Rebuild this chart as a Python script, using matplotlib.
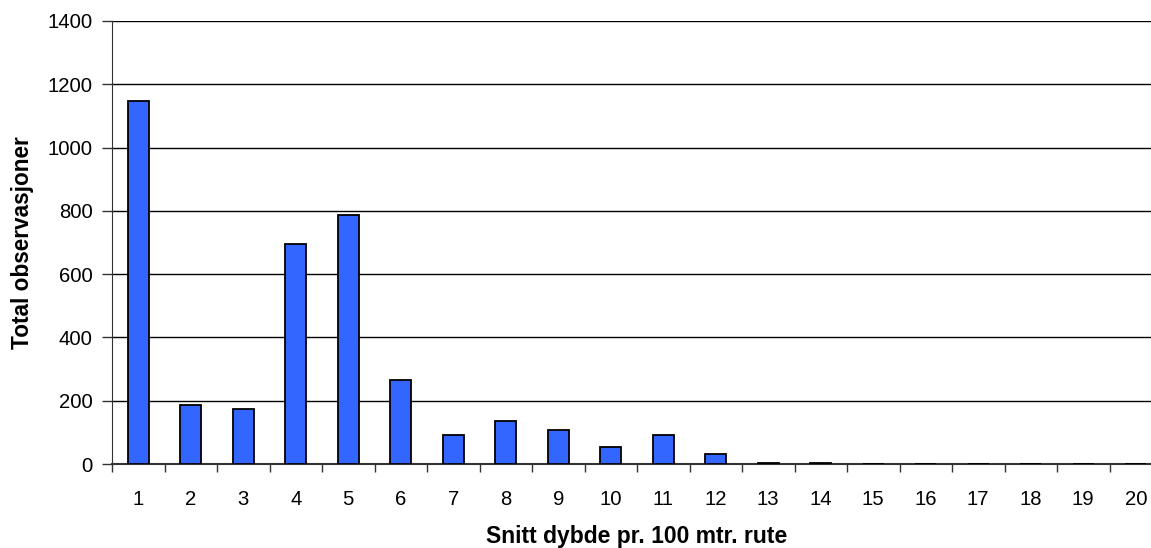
import matplotlib
matplotlib.use('Agg')
from matplotlib import pyplot as plt

plt.rcParams['font.family'] = ['Liberation Sans', 'DejaVu Sans']

dybde = [str(i) for i in range(1, 21)]
observasjoner = [1148, 185, 174, 695, 787, 266, 91, 136, 108, 53,
                 91, 31, 4, 4, 0, 0, 0, 0, 0, 0]
y_ticks = [0, 200, 400, 600, 800, 1000, 1200, 1400]


def main():
    fig = plt.figure(figsize=(11.51, 5.48), dpi=100)
    ax = fig.add_axes([112 / 1151, 84 / 548, 1050 / 1151, 443 / 548])

    pos = list(range(len(dybde)))
    ax.bar(pos, observasjoner, width=0.4, color='#3366FF',
           edgecolor='black', linewidth=1.3, zorder=3)

    ax.set_xlim(-0.5, len(dybde) - 0.5)
    ax.set_ylim(0, 1400)
    ax.set_yticks(y_ticks)
    ax.set_yticklabels([str(v) for v in y_ticks], fontsize=14.6)
    ax.set_xticks(pos)
    ax.set_xticklabels(dybde, fontsize=14.6)
    ax.tick_params(axis='x', length=0, pad=18.5)
    ax.set_xticks([p + 0.5 for p in pos[:-1]] + [-0.5], minor=True)
    ax.tick_params(axis='x', which='minor', length=6, width=1, color='#333333')
    ax.tick_params(axis='y', length=7, width=1, color='#333333', pad=7)

    ax.yaxis.grid(True, color='black', linewidth=1, zorder=0)
    ax.set_axisbelow(True)
    for s in ['top', 'right']:
        ax.spines[s].set_visible(False)
    ax.spines['left'].set_color('#333333')
    ax.spines['bottom'].set_color('#333333')
    ax.spines['bottom'].set_linewidth(1.5)

    ax.set_xlabel('Snitt dybde pr. 100 mtr. rute', fontsize=16.5,
                  fontweight='bold', labelpad=11.5)
    ax.set_ylabel('Total observasjoner', fontsize=16.3, fontweight='bold',
                  labelpad=10)

    fig.savefig('out.png', dpi=100)


if __name__ == '__main__':
    main()
